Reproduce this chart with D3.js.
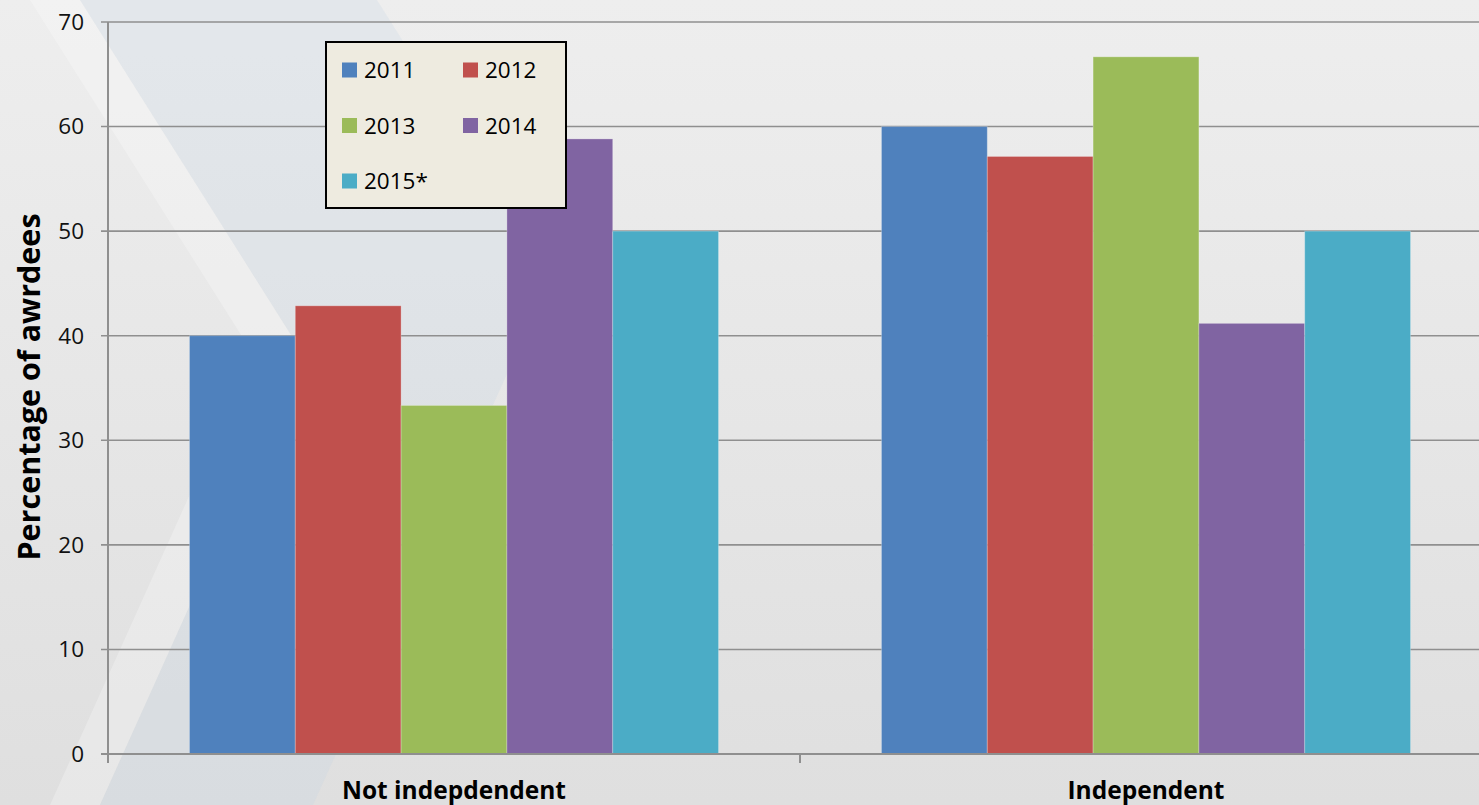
<!DOCTYPE html>
<html>
<head>
<meta charset="utf-8">
<script src="https://cdn.jsdelivr.net/npm/d3@7"></script>
<style>
  html, body { margin: 0; padding: 0; overflow: hidden; }
  body { width: 1479px; height: 805px; }
</style>
</head>
<body>
<div id="chart"></div>
<script>
// data
var categories = ['Not indepdendent', 'Independent'];
var years = ['2011', '2012', '2013', '2014', '2015*'];
var seriesValues = {
    '2011': [40, 60],
    '2012': [42.86, 57.14],
    '2013': [33.33, 66.67],
    '2014': [58.82, 41.18],
    '2015*': [50, 50]
};
var yTicks = [0, 10, 20, 30, 40, 50, 60, 70];
var yTitle = 'Percentage of awrdees';

var attrs = {
    svgWidth: 1479,
    svgHeight: 805,
    marginTop: 22,
    marginLeft: 108,
    plotBottom: 754,
    catRight: 1492,   // third category divider sits off-canvas
    font: "'Open Sans', 'DejaVu Sans', sans-serif",
    gridColor: '#8f8f8f',
    colors: ['#4F81BD', '#C0504D', '#9BBB59', '#8064A2', '#4BACC6']
};

var svg = d3.select('#chart').append('svg')
    .attr('width', attrs.svgWidth)
    .attr('height', attrs.svgHeight)
    .attr('font-family', attrs.font);

/*################################## BACKGROUND ####################################### */
var defs = svg.append('defs');
var grad = defs.append('linearGradient')
    .attr('id', 'bgGrad')
    .attr('x1', 0).attr('y1', 0).attr('x2', 0).attr('y2', 1);
grad.append('stop').attr('offset', '0%').attr('stop-color', '#eeeeee');
grad.append('stop').attr('offset', '100%').attr('stop-color', '#dfdfdf');

svg.append('rect')
    .attr('width', attrs.svgWidth)
    .attr('height', attrs.svgHeight)
    .attr('fill', 'url(#bgGrad)');

// decorative chevrons of the slide template
svg.append('polygon')
    .attr('points', '30,0 80,0 303,354 100,805 50,805 253,354')
    .attr('fill', '#ffffff')
    .attr('opacity', 0.25);
svg.append('polygon')
    .attr('points', '80,0 377,0 551,276 313,805 100,805 303,354')
    .attr('fill', '#c1d1e5')
    .attr('opacity', 0.22);

/*################################## SCALES ####################################### */
var y = d3.scaleLinear()
    .domain([0, 70])
    .range([attrs.plotBottom, attrs.marginTop]);

var x0 = d3.scaleBand()
    .domain(categories)
    .range([attrs.marginLeft, attrs.catRight])
    .padding(0);

var x1 = d3.scaleBand()
    .domain(years)
    .range([0, x0.bandwidth()])
    .paddingInner(0)
    .paddingOuter(0.77);

var color = d3.scaleOrdinal().domain(years).range(attrs.colors);

/*################################## GRID + AXES ####################################### */
var grid = svg.append('g').attr('class', 'grid');
grid.selectAll('line')
    .data(yTicks)
    .enter().append('line')
    .attr('x1', attrs.marginLeft - 7)
    .attr('x2', attrs.svgWidth)
    .attr('y1', d => y(d))
    .attr('y2', d => y(d))
    .attr('stroke', attrs.gridColor)
    .attr('stroke-width', 1.6);

svg.append('g')
    .selectAll('text')
    .data(yTicks)
    .enter().append('text')
    .attr('x', attrs.marginLeft - 24)
    .attr('y', d => y(d))
    .attr('dy', '0.35em')
    .attr('text-anchor', 'end')
    .attr('font-size', 22.5)
    .attr('fill', '#111')
    .text(d => d);

/*################################## BARS ####################################### */
var groups = svg.append('g').selectAll('g')
    .data(categories)
    .enter().append('g')
    .attr('transform', d => 'translate(' + x0(d) + ',0)');

groups.selectAll('rect')
    .data((c, i) => years.map(yr => ({ year: yr, value: seriesValues[yr][i] })))
    .enter().append('rect')
    .attr('x', d => x1(d.year))
    .attr('y', d => y(d.value))
    .attr('width', x1.bandwidth())
    .attr('height', d => y(0) - y(d.value))
    .attr('fill', d => color(d.year))
    .attr('stroke', 'rgba(255,255,255,0.25)')
    .attr('stroke-width', 1);

// axis lines drawn over the bars
svg.append('line')
    .attr('x1', attrs.marginLeft - 7).attr('x2', attrs.svgWidth)
    .attr('y1', y(0)).attr('y2', y(0))
    .attr('stroke', attrs.gridColor).attr('stroke-width', 2);

svg.append('line')
    .attr('x1', attrs.marginLeft).attr('x2', attrs.marginLeft)
    .attr('y1', y(70)).attr('y2', y(0) + 9)
    .attr('stroke', attrs.gridColor).attr('stroke-width', 2);

svg.append('g').selectAll('line')
    .data(categories)
    .enter().append('line')
    .attr('x1', d => x0(d) + x0.bandwidth())
    .attr('x2', d => x0(d) + x0.bandwidth())
    .attr('y1', y(0))
    .attr('y2', y(0) + 9)
    .attr('stroke', attrs.gridColor)
    .attr('stroke-width', 2);

svg.append('g').selectAll('text')
    .data(categories)
    .enter().append('text')
    .attr('x', d => x0(d) + x0.bandwidth() / 2)
    .attr('y', 799)
    .attr('text-anchor', 'middle')
    .attr('font-size', 24.5)
    .attr('font-weight', 'bold')
    .attr('fill', '#000')
    .text(d => d);

svg.append('text')
    .attr('transform', 'translate(40,' + 387 + ') rotate(-90)')
    .attr('text-anchor', 'middle')
    .attr('font-size', 30.5)
    .attr('font-weight', 'bold')
    .attr('fill', '#000')
    .text(yTitle);

/*################################## LEGEND ####################################### */
var legend = svg.append('g').attr('transform', 'translate(326,42)');
legend.append('rect')
    .attr('width', 240)
    .attr('height', 166)
    .attr('fill', '#eeebe0')
    .attr('stroke', '#000')
    .attr('stroke-width', 2);

var items = legend.selectAll('g.item')
    .data(years)
    .enter().append('g')
    .attr('class', 'item')
    .attr('transform', (d, i) => 'translate(' + (16 + (i % 2) * 121) + ',' + (28 + Math.floor(i / 2) * 55.5) + ')');

items.append('rect')
    .attr('x', 0).attr('y', -7.5)
    .attr('width', 15).attr('height', 15)
    .attr('fill', d => color(d));

items.append('text')
    .attr('x', 22)
    .attr('y', 0)
    .attr('dy', '0.36em')
    .attr('font-size', 22.5)
    .attr('fill', '#000')
    .text(d => d);
</script>
</body>
</html>
